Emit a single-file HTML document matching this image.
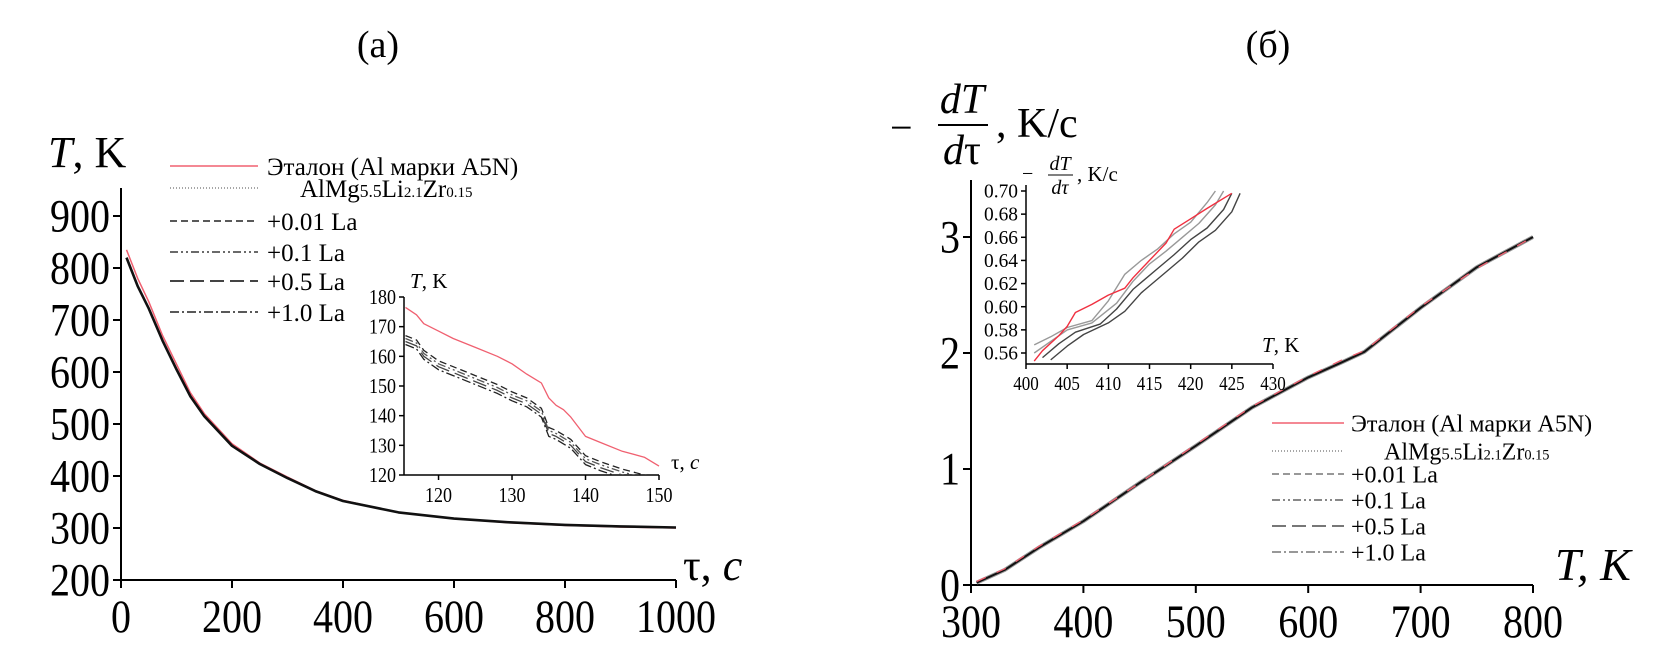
<!DOCTYPE html>
<html><head><meta charset="utf-8"><style>
html,body{margin:0;padding:0;background:#fff}
svg{display:block;font-family:"Liberation Serif","DejaVu Serif",serif}
</style></head><body>
<svg id="fig" width="1678" height="654" viewBox="0 0 1678 654" xmlns="http://www.w3.org/2000/svg">
<text x="378" y="57" font-size="38" text-anchor="middle">(a)</text>
<text x="1268" y="57" font-size="38" text-anchor="middle">(б)</text>
<text x="48" y="167" font-size="44"><tspan font-style="italic">T</tspan>, K</text>
<text x="683" y="580" font-size="44">τ, <tspan font-style="italic">c</tspan></text>
<g>
<text x="890" y="141" font-size="40">−</text>
<text x="962" y="113" font-size="42" text-anchor="middle" font-style="italic">dT</text>
<line x1="938" y1="125" x2="988" y2="125" stroke="#000" stroke-width="2"/>
<text x="962" y="164" font-size="42" text-anchor="middle"><tspan font-style="italic">d</tspan>τ</text>
<text x="996" y="137" font-size="42">, K/c</text>
</g>
<text x="1555" y="580" font-size="46" font-style="italic">T, K</text>
<g id="layer"></g>
</svg>
<script>
// ---- Panel (a) main data
const aTau = [10, 30, 50, 75, 100, 125, 150, 200, 250, 300, 350, 400, 500, 600, 700, 800, 900, 1000];
const aRef = [835, 780, 735, 670, 615, 560, 520, 462, 425, 398, 372, 353, 330, 318, 310, 305, 302, 300];
const aAlloy = [820, 765, 722, 660, 605, 553, 515, 458, 423, 396, 371, 352, 330, 318, 311, 306, 303, 301];
const aXTicks = [0, 200, 400, 600, 800, 1000];
const aYTicks = [200, 300, 400, 500, 600, 700, 800, 900];
// ---- Panel (a) inset data
const iaTau = [115.5, 117, 118, 120, 122, 125, 128, 130, 132, 134, 135, 136, 137, 138, 140, 142, 145, 148, 150];
const iaRef = [176.5, 174, 171, 168.5, 166, 163, 160, 157.5, 154, 151, 146, 143.5, 142, 139.5, 133, 131, 128, 126, 123];
const iaA1 = [167, 165.5, 162, 158.5, 156.5, 153.5, 150.5, 148, 146, 142.5, 136, 135, 133.5, 132, 126.5, 124.5, 122, 120, 119];
const iaA2 = [166, 164.5, 161, 157.5, 155.5, 152.5, 149.5, 147, 145, 141.5, 135, 134, 132.5, 131, 125.5, 123.5, 121, 119, 118];
const iaA3 = [165, 163.5, 160, 156.5, 154.5, 151.5, 148.5, 146, 144, 140.5, 134, 133, 131.5, 130, 124.5, 122.5, 120, 118, 117];
const iaA4 = [164, 162.5, 159, 155.5, 153.5, 150.5, 147.5, 145, 143, 139.5, 133, 132, 130.5, 129, 123.5, 121.5, 119, 117, 116];
const iaXTicks = [120, 130, 140, 150];
const iaYTicks = [120, 130, 140, 150, 160, 170, 180];
// ---- Panel (b) main data
const bT = [305, 330, 360, 400, 450, 500, 550, 600, 630, 650, 700, 750, 800];
const bRef = [0.03, 0.14, 0.33, 0.56, 0.88, 1.21, 1.54, 1.80, 1.94, 2.02, 2.40, 2.73, 3.0];
const bAlloy = [0.02, 0.13, 0.32, 0.55, 0.88, 1.20, 1.53, 1.79, 1.92, 2.01, 2.39, 2.74, 3.0];
const bXTicks = [300, 400, 500, 600, 700, 800];
const bYTicks = [0, 1, 2, 3];
// ---- Panel (b) inset data
const ibRefT = [401, 402, 404, 405, 406, 408, 410, 412, 413, 415, 417, 418, 420, 422, 425];
const ibRef = [0.553, 0.562, 0.575, 0.583, 0.595, 0.602, 0.610, 0.616, 0.625, 0.640, 0.655, 0.667, 0.676, 0.685, 0.698];
const ibT1 = [401, 403, 405, 408, 410, 412, 414, 416, 418, 420, 422, 423];
const ibA1 = [0.567, 0.574, 0.582, 0.588, 0.605, 0.628, 0.640, 0.650, 0.663, 0.673, 0.690, 0.700];
const ibT2 = [401, 403, 405, 408, 411, 413, 415, 417, 419, 421, 423, 424];
const ibA2 = [0.560, 0.570, 0.580, 0.586, 0.603, 0.622, 0.637, 0.648, 0.660, 0.672, 0.688, 0.700];
const ibT3 = [402, 404, 406, 409, 411, 413, 416, 418, 420, 422, 424, 425];
const ibA3 = [0.556, 0.568, 0.578, 0.585, 0.598, 0.615, 0.633, 0.645, 0.658, 0.668, 0.684, 0.698];
const ibT4 = [403, 405, 407, 410, 412, 414, 417, 419, 421, 423, 425, 426];
const ibA4 = [0.554, 0.566, 0.576, 0.586, 0.596, 0.612, 0.630, 0.642, 0.656, 0.666, 0.682, 0.698];
const ibXTicks = [400, 405, 410, 415, 420, 425, 430];
const ibYTicks = [0.56, 0.58, 0.60, 0.62, 0.64, 0.66, 0.68, 0.70];
const legendLabels = ["Эталон (Al марки A5N)", "AlMg5.5Li2.1Zr0.15", "+0.01 La", "+0.1 La", "+0.5 La", "+1.0 La"];

const NS = "http://www.w3.org/2000/svg";
const layer = document.getElementById('layer');
function el(tag, attrs, parent) {
  const e = document.createElementNS(NS, tag);
  for (const k in attrs) e.setAttribute(k, attrs[k]);
  (parent || layer).appendChild(e);
  return e;
}
function lin(d0, d1, r0, r1) { return v => r0 + (v - d0) * (r1 - r0) / (d1 - d0); }

function axes(cfg) {
  const g = el('g', {});
  
  
  el('line', {x1: cfg.x0, y1: cfg.yTop, x2: cfg.x0, y2: cfg.y0, stroke: '#000', 'stroke-width': cfg.sw}, g);
  el('line', {x1: cfg.x0, y1: cfg.y0, x2: cfg.xRight, y2: cfg.y0, stroke: '#000', 'stroke-width': cfg.sw}, g);
  cfg.xTicks.forEach(t => {
    const x = cfg.sx(t);
    el('line', {x1: x, y1: cfg.y0, x2: x, y2: cfg.y0 + cfg.tl, stroke: '#000', 'stroke-width': cfg.sw}, g);
    const tx = el('text', {x: x, y: cfg.y0 + cfg.xLabOff, 'font-size': cfg.fs, 'text-anchor': 'middle'}, g);
    
    
    const s = cfg.fmtX ? cfg.fmtX(t) : String(t);
    tx.textContent = s;
    if (cfg.cw) { tx.setAttribute('textLength', s.length * cfg.cw); tx.setAttribute('lengthAdjust', 'spacingAndGlyphs'); }
  });
  cfg.yTicks.forEach(t => {
    const y = cfg.sy(t);
    el('line', {x1: cfg.x0 - cfg.tl, y1: y, x2: cfg.x0, y2: y, stroke: '#000', 'stroke-width': cfg.sw}, g);
    const ty = el('text', {x: cfg.x0 - cfg.tl - 3, y: y + cfg.fs * 0.33, 'font-size': cfg.fs, 'text-anchor': 'end'}, g);
    
    
    const s = cfg.fmtY ? cfg.fmtY(t) : String(t);
    ty.textContent = s;
    if (cfg.cw) { ty.setAttribute('textLength', s.length * cfg.cw); ty.setAttribute('lengthAdjust', 'spacingAndGlyphs'); }
  });
}
function series(xs, ys, sx, sy, style, name) {
  const pts = xs.map((v, i) => sx(v).toFixed(1) + ',' + sy(ys[i]).toFixed(1)).join(' ');
  const p = el('polyline', Object.assign({points: pts, fill: 'none', 'stroke-linejoin': 'round'}, style));
  
  
}
const styles = [
  {stroke: '#f06070', 'stroke-width': 1.6},
  {stroke: '#888', 'stroke-width': 1.4, 'stroke-dasharray': '1 2'},
  {stroke: '#222', 'stroke-width': 1.6, 'stroke-dasharray': '7 4'},
  {stroke: '#555', 'stroke-width': 1.8, 'stroke-dasharray': '8 3 2 3 2 3'},
  {stroke: '#444', 'stroke-width': 2, 'stroke-dasharray': '14 6'},
  {stroke: '#222', 'stroke-width': 1.5, 'stroke-dasharray': '9 3 2 3'}
];
function legend(x1, x2, tx, ys, fs, name, grayish) {
  const g = el('g', {});
  
  
  legendLabels.forEach((lab, i) => {
    const st = Object.assign({}, styles[i]);
    if (grayish && i > 1) st.stroke = '#777';
    el('line', Object.assign({x1: x1, y1: ys[i], x2: x2, y2: ys[i]}, st), g);
    const t = el('text', {x: i === 1 ? tx + 33 : tx, y: ys[i] + fs * 0.35, 'font-size': fs}, g);
    
    
    if (i === 1) {
      t.innerHTML = 'AlMg<tspan font-size="' + (fs * 0.7) + '">5.5</tspan>Li<tspan font-size="' + (fs * 0.6) + '">2.1</tspan>Zr<tspan font-size="' + (fs * 0.6) + '">0.15</tspan>';
    } else t.textContent = lab;
  });
}

// Panel a
const ax = lin(0, 1000, 121, 676), ay = lin(200, 900, 580, 216);
axes({name: 'a', x0: 121, y0: 580, yTop: 188, xRight: 676, sx: ax, sy: ay, xTicks: aXTicks, yTicks: aYTicks, tl: 8, sw: 2, fs: 47, cw: 20, xLabOff: 52});
series(aTau, aRef, ax, ay, {stroke: '#f06070', 'stroke-width': 1.5}, 'a-reference-line');
series(aTau, aAlloy, ax, ay, {stroke: '#111', 'stroke-width': 2.6}, 'a-alloy-lines');
legend(170, 258, 267, [166, 188, 221, 252, 281, 312], 25, 'a-legend', false);

// Inset a
const iax = lin(115.3, 150, 404, 659), iay = lin(120, 180, 475, 297);
axes({name: 'inset-a', x0: 404, y0: 475, yTop: 297, xRight: 659, sx: iax, sy: iay, xTicks: iaXTicks, yTicks: iaYTicks, tl: 5, sw: 1.5, fs: 21, cw: 9, xLabOff: 27});
const iaClip = el('clipPath', {id: 'clipA'});
el('rect', {x: 404, y: 290, width: 260, height: 185}, iaClip);
series(iaTau, iaRef, iax, iay, {stroke: '#f06070', 'stroke-width': 1.3}, 'inset-a-reference');
[iaA1, iaA2, iaA3, iaA4].forEach((a, i) => series(iaTau, a, iax, iay, Object.assign({'clip-path': 'url(#clipA)'}, styles[i + 2], {'stroke-width': 1.3}), 'inset-a-alloy-' + (i + 1)));
const iat = el('text', {x: 410, y: 288, 'font-size': 21});


iat.innerHTML = '<tspan font-style="italic">T</tspan>, K';
const iaxt = el('text', {x: 671, y: 469, 'font-size': 21});


iaxt.innerHTML = 'τ, <tspan font-style="italic">c</tspan>';

// Panel b
const bx = lin(300, 800, 971, 1533), by = lin(0, 3, 585, 237);
axes({name: 'b', x0: 971, y0: 585, yTop: 180, xRight: 1533, sx: bx, sy: by, xTicks: bXTicks, yTicks: bYTicks, tl: 8, sw: 2, fs: 47, cw: 20, xLabOff: 52});
series(bT, bAlloy, bx, by, {stroke: '#999', 'stroke-width': 4}, 'b-alloy-gray');
series(bT, bAlloy, bx, by, {stroke: '#111', 'stroke-width': 2}, 'b-alloy-lines');
series(bT, bRef, bx, by, {stroke: '#f06070', 'stroke-width': 1.3, 'stroke-dasharray': '10 12'}, 'b-reference-line');
legend(1272, 1344, 1351, [423, 451, 474, 500, 526, 552], 24, 'b-legend', true);

// Inset b
const ibx = lin(400, 430, 1026, 1273), iby = lin(0.56, 0.70, 353, 191);
const ibg = el('rect', {x: 1026, y: 185, width: 250, height: 179, fill: '#fff'});


axes({name: 'inset-b', x0: 1026, y0: 364, yTop: 185, xRight: 1273, sx: ibx, sy: iby, xTicks: ibXTicks, yTicks: ibYTicks, tl: 5, sw: 1.5, fs: 20, cw: 8.5, xLabOff: 26, fmtY: v => v.toFixed(2)});
[[ibT1, ibA1], [ibT2, ibA2], [ibT3, ibA3], [ibT4, ibA4]].forEach((p, i) => series(p[0], p[1], ibx, iby, {stroke: i < 2 ? '#999' : '#444', 'stroke-width': 1.4}, 'inset-b-alloy-' + (i + 1)));
series(ibRefT, ibRef, ibx, iby, {stroke: '#f03040', 'stroke-width': 1.4}, 'inset-b-reference');
const ibt = el('g', {});


el('text', {x: 1022, y: 180, 'font-size': 20}, ibt).textContent = '−';
el('text', {x: 1060, y: 170, 'font-size': 20, 'text-anchor': 'middle', 'font-style': 'italic'}, ibt).textContent = 'dT';
el('line', {x1: 1048, y1: 175, x2: 1073, y2: 175, stroke: '#000', 'stroke-width': 1}, ibt);
el('text', {x: 1060, y: 194, 'font-size': 20, 'text-anchor': 'middle', 'font-style': 'italic'}, ibt).textContent = 'dτ';
el('text', {x: 1077, y: 181, 'font-size': 21}, ibt).textContent = ', K/c';
const ibxt = el('text', {x: 1262, y: 352, 'font-size': 21});


ibxt.innerHTML = '<tspan font-style="italic">T</tspan>, K';
</script>
</body></html>
